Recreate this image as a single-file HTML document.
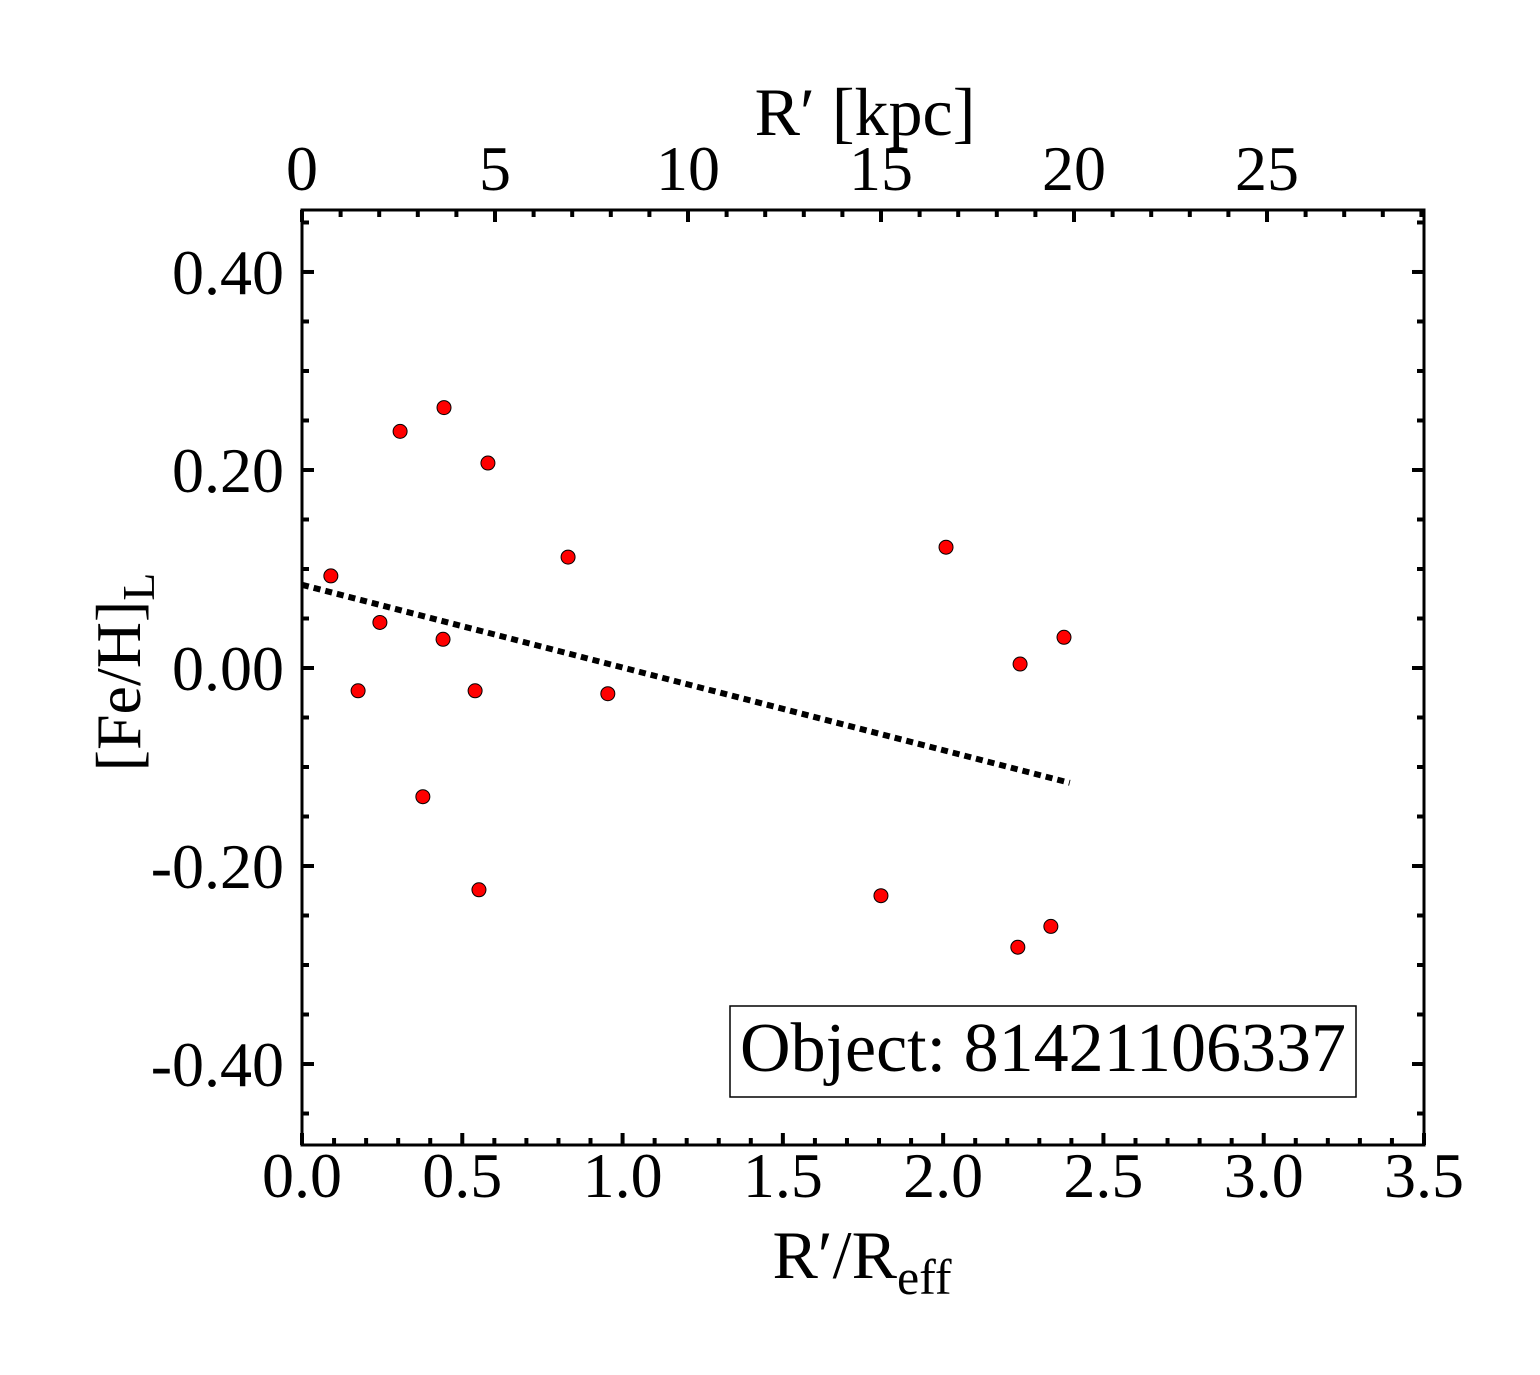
<!DOCTYPE html>
<html><head><meta charset="utf-8"><style>
html,body{margin:0;padding:0;background:#fff}
svg{display:block;font-family:"Liberation Serif",serif}
</style></head><body>
<svg id="chart" width="1540" height="1375" viewBox="0 0 1540 1375">
<g id="ticks"></g>
<g id="labels"></g>
<g id="marks"></g>
<rect x="302" y="210" width="1122" height="935" fill="none" stroke="#000" stroke-width="3"/>
<text x="865" y="135" font-size="68" text-anchor="middle">R′ [kpc]</text>
<text x="862" y="1278" font-size="68" text-anchor="middle">R′/R<tspan font-size="50" dy="16">eff</tspan></text>
<text transform="translate(140,672) rotate(-90)" font-size="64" text-anchor="middle">[Fe/H]<tspan font-size="46" dy="14">L</tspan></text>
<rect x="730" y="1006" width="626" height="91" fill="#fff" stroke="#000" stroke-width="1.5"/>
<text x="1043" y="1071" font-size="70" text-anchor="middle">Object: 81421106337</text>
</svg>
<script>
const xs = [0.090,0.175,0.243,0.306,0.377,0.443,0.440,0.540,0.552,0.580,0.830,0.954,1.806,2.009,2.233,2.240,2.336,2.377];
const ys = [0.093,-0.023,0.046,0.239,-0.130,0.263,0.029,-0.023,-0.224,0.207,0.112,-0.026,-0.230,0.122,-0.282,0.004,-0.261,0.031];
const fitX = [0, 2.395];
const fitY = [0.084, -0.116];
const xTickLabels = ["0.0","0.5","1.0","1.5","2.0","2.5","3.0","3.5"];
const yTickLabels = ["0.40","0.20","0.00","-0.20","-0.40"];
const kpcTickLabels = ["0","5","10","15","20","25"];

const L=302,R=1424,T=210,B=1145;
const X0=0,X1=3.5,Y0=-0.4818,Y1=0.4626;
const sx=v=>L+(v-X0)/(X1-X0)*(R-L);
const sy=v=>B-(v-Y0)/(Y1-Y0)*(B-T);
const KPC=38.6/((R-L)/(X1-X0));
const sk=v=>sx(v*KPC);
const NS="http://www.w3.org/2000/svg";
function mk(tag,attrs,parent){const e=document.createElementNS(NS,tag);for(const k in attrs)e.setAttribute(k,attrs[k]);parent.appendChild(e);return e;}
const tg=document.getElementById('ticks'),lg=document.getElementById('labels'),mg=document.getElementById('marks');
for(let i=0;i<=35;i++){const v=i*0.1,x=sx(v),len=(i%5===0)?12:7;
 const t=mk('line',{x1:x,x2:x,y1:B,y2:B-len,stroke:'#000','stroke-width':4},tg);
 
 }
xTickLabels.forEach(s=>{const t=mk('text',{x:sx(parseFloat(s)),y:1197,'font-size':64,'text-anchor':'middle'},lg);t.textContent=s;
 
 });
for(let k=0;k<=29;k++){const x=sk(k);if(x>R)break;const len=(k%5===0)?12:7;
 const t=mk('line',{x1:x,x2:x,y1:T,y2:T+len,stroke:'#000','stroke-width':4},tg);
 
 }
kpcTickLabels.forEach(s=>{const t=mk('text',{x:sk(parseFloat(s)),y:190,'font-size':64,'text-anchor':'middle'},lg);t.textContent=s;
 
 });
for(let i=-9;i<=9;i++){const v=i*0.05,y=sy(v);if(y<T||y>B)continue;const len=(i%4===0)?12:7;
 const a=mk('line',{x1:L,x2:L+len,y1:y,y2:y,stroke:'#000','stroke-width':4},tg);
 
 
 const b=mk('line',{x1:R,x2:R-len,y1:y,y2:y,stroke:'#000','stroke-width':4},tg);
 
 }
yTickLabels.forEach(s=>{const t=mk('text',{x:284,y:sy(parseFloat(s))+22,'font-size':64,'text-anchor':'end'},lg);t.textContent=s;
 
 });
const ln=mk('line',{x1:sx(fitX[0]),y1:sy(fitY[0]),x2:sx(fitX[1]),y2:sy(fitY[1]),stroke:'#000','stroke-width':6,'stroke-dasharray':'7 5'},mg);


xs.forEach((x,i)=>{const c=mk('circle',{cx:sx(x),cy:sy(ys[i]),r:7,fill:'#ff0000',stroke:'#000','stroke-width':1},mg);
 
 });
</script>
</body></html>
